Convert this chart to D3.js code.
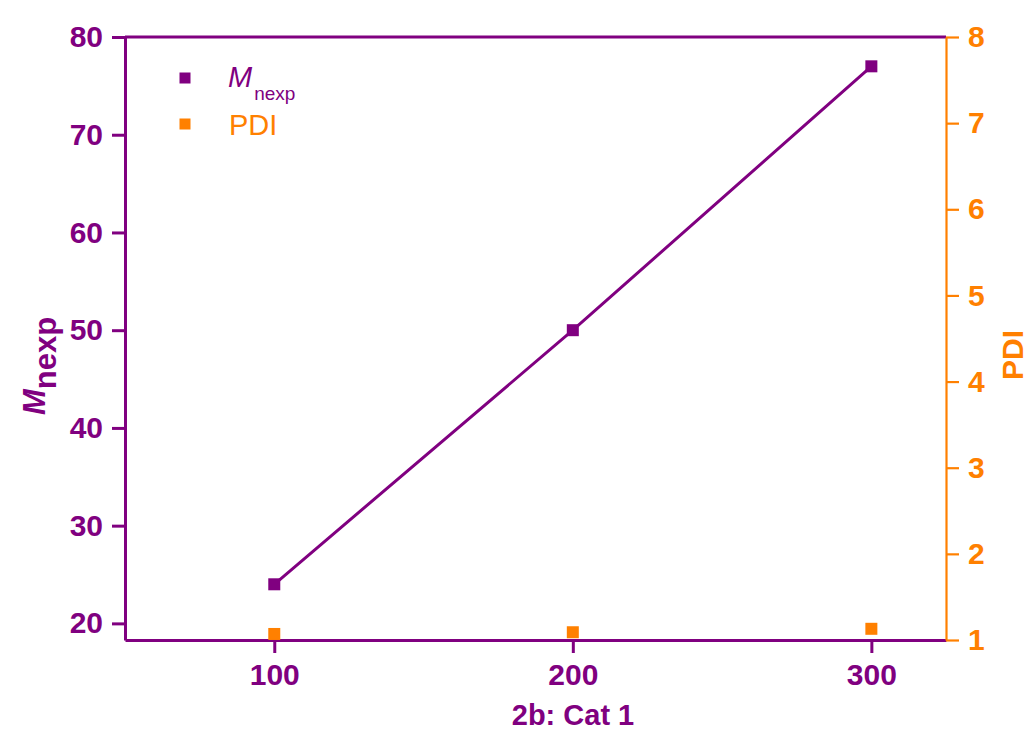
<!DOCTYPE html>
<html>
<head>
<meta charset="utf-8">
<script src="https://cdn.jsdelivr.net/npm/d3@7"></script>
<style>
  html, body { margin: 0; padding: 0; background: #ffffff; }
  svg { display: block; font-family: "Liberation Sans", Arial, sans-serif; }
</style>
</head>
<body>
<svg id="chart" width="1030" height="732"></svg>
<script>
// Catalyst loading series: molecular weight and dispersity
const xValues = [100, 200, 300];
const mnexpValues = [24.0, 50.0, 77.0];
const pdiValues = [1.07, 1.09, 1.13];

const xTicks = [100, 200, 300];
const leftTicks = [20, 30, 40, 50, 60, 70, 80];
const rightTicks = [1, 2, 3, 4, 5, 6, 7, 8];

const purple = "#800080";
const orange = "#ff8000";

const margin = { left: 125, top: 37, right: 946, bottom: 640 };

const svg = d3.select("#chart");

const x = d3.scaleLinear().domain([50, 325]).range([margin.left, margin.right]);
const yL = d3.scaleLinear().domain([18.3, 80]).range([margin.bottom, margin.top]);
const yR = d3.scaleLinear().domain([1, 8]).range([margin.bottom, margin.top]);

function styleAxis(g, color, width) {
  g.selectAll(".domain").attr("stroke", color).attr("stroke-width", width);
  g.selectAll(".tick line").attr("stroke", color).attr("stroke-width", width);
  g.selectAll(".tick text")
    .attr("fill", color)
    .style("font-size", "30px")
    .style("font-weight", "bold")
    .style("font-family", '"Liberation Sans", Arial, sans-serif');
}

// top frame line
svg.append("line")
  .attr("x1", margin.left).attr("x2", margin.right)
  .attr("y1", margin.top).attr("y2", margin.top)
  .attr("stroke", purple).attr("stroke-width", 3);

// bottom axis
const gx = svg.append("g")
  .attr("transform", `translate(0,${margin.bottom})`)
  .call(d3.axisBottom(x).tickValues(xTicks).tickSize(13).tickSizeOuter(0).tickPadding(11)
    .tickFormat(d3.format("d")));
styleAxis(gx, purple, 3);

// left axis
const gl = svg.append("g")
  .attr("transform", `translate(${margin.left},0)`)
  .call(d3.axisLeft(yL).tickValues(leftTicks).tickSize(13).tickSizeOuter(0).tickPadding(9)
    .tickFormat(d3.format("d")));
styleAxis(gl, purple, 3);

// right axis
const gr = svg.append("g")
  .attr("transform", `translate(${margin.right},0)`)
  .call(d3.axisRight(yR).tickValues(rightTicks).tickSize(13).tickSizeOuter(0).tickPadding(9)
    .tickFormat(d3.format("d")));
styleAxis(gr, orange, 2.2);

// Mnexp line and markers
const line = d3.line()
  .x((d, i) => x(xValues[i]))
  .y(d => yL(d));

svg.append("path")
  .datum(mnexpValues)
  .attr("d", line)
  .attr("fill", "none")
  .attr("stroke", purple)
  .attr("stroke-width", 3);

const ms = 12;
svg.selectAll("rect.mn")
  .data(mnexpValues)
  .join("rect")
  .attr("class", "mn")
  .attr("x", (d, i) => x(xValues[i]) - ms / 2)
  .attr("y", d => yL(d) - ms / 2)
  .attr("width", ms).attr("height", ms)
  .attr("fill", purple);

svg.selectAll("rect.pdi")
  .data(pdiValues)
  .join("rect")
  .attr("class", "pdi")
  .attr("x", (d, i) => x(xValues[i]) - ms / 2)
  .attr("y", d => yR(d) - ms / 2)
  .attr("width", ms).attr("height", ms)
  .attr("fill", orange);

// axis titles
svg.append("text")
  .attr("x", 573).attr("y", 725)
  .attr("text-anchor", "middle")
  .attr("fill", purple)
  .style("font-size", "29px").style("font-weight", "bold")
  .text("2b: Cat 1");

const lt = svg.append("text")
  .attr("transform", "translate(45,366) rotate(-90)")
  .attr("text-anchor", "middle")
  .attr("fill", purple)
  .style("font-size", "31px").style("font-weight", "bold");
lt.append("tspan").style("font-style", "italic").text("M");
lt.append("tspan").attr("dy", 11).text("nexp");

svg.append("text")
  .attr("transform", "translate(1023,355) rotate(-90)")
  .attr("text-anchor", "middle")
  .attr("fill", orange)
  .style("font-size", "30px").style("font-weight", "bold")
  .text("PDI");

// legend
const legend = svg.append("g");
legend.append("rect")
  .attr("x", 185 - 5.5).attr("y", 78 - 5.5).attr("width", 11).attr("height", 11)
  .attr("fill", purple);
legend.append("rect")
  .attr("x", 185 - 5.5).attr("y", 124 - 5.5).attr("width", 11).attr("height", 11)
  .attr("fill", orange);
const l1 = legend.append("text")
  .attr("x", 228).attr("y", 87)
  .attr("fill", purple)
  .style("font-size", "29px");
l1.append("tspan").style("font-style", "italic").text("M");
l1.append("tspan").attr("dy", 13).attr("dx", 2).style("font-size", "19px").text("nexp");
legend.append("text")
  .attr("x", 229).attr("y", 135)
  .attr("fill", orange)
  .style("font-size", "29px")
  .text("PDI");
</script>
</body>
</html>
